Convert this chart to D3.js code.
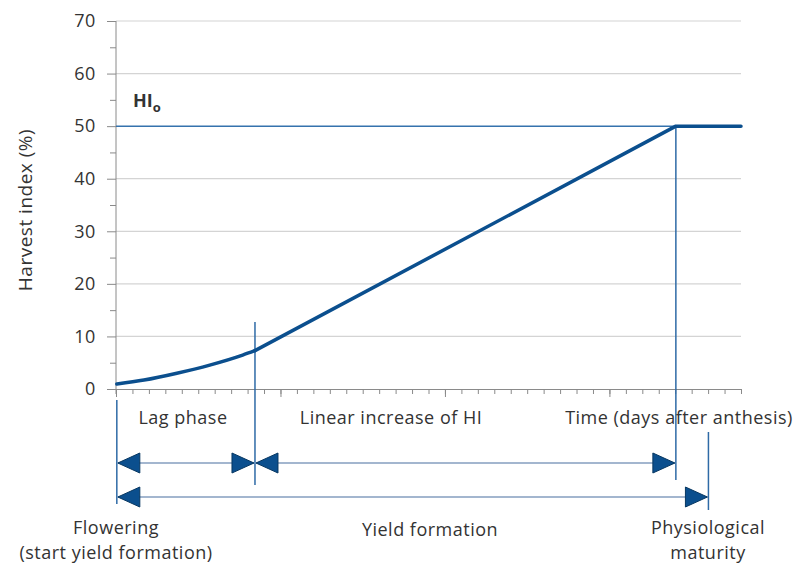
<!DOCTYPE html>
<html>
<head>
<meta charset="utf-8">
<script src="https://cdn.jsdelivr.net/npm/d3@7"></script>
<style>
  body { margin: 0; background: #fff; }
  svg text { font-family: "Open Sans", sans-serif; fill: #333; }
  .axis path, .axis line { stroke: #8a8a8a; }
  .axis text { font-size: 18px; letter-spacing: 0.6px; }
</style>
</head>
<body>
<script>
// lag phase (curved) and linear phase of HI, x in time units
var lagX = [0.05, 1.7, 3.7, 5.7, 7.7, 8.45];
var lagY = [0.95, 1.7, 3.0, 4.55, 6.45, 7.3];
var linX = [8.45, 34.04, 38];
var linY = [7.3, 50, 50];
var hiMax = 50;
var yTicks = [0, 10, 20, 30, 40, 50, 60, 70];
var yMinor = [5, 15, 25, 35, 45, 55, 65];
// phase markers: flowering, end of lag, HI max, physiological maturity
var markX = [0.05, 8.45, 34.04, 36.02];

var width = 799, height = 564;

var svg = d3.select("body").append("svg")
  .attr("width", width)
  .attr("height", height);

var x = d3.scaleLinear().domain([0, 38]).range([116, 741]);
var y = d3.scaleLinear().domain([0, 70]).range([389, 21]);

// gridlines
svg.append("g")
  .selectAll("line")
  .data(yTicks.filter(function(d) { return d > 0 && d != hiMax; }))
  .enter().append("line")
    .attr("x1", x(0)).attr("x2", x(38))
    .attr("y1", function(d) { return y(d); })
    .attr("y2", function(d) { return y(d); })
    .attr("stroke", "#d4d4d4")
    .attr("stroke-width", 1.2);

// y axis
svg.append("g")
  .attr("class", "axis")
  .attr("transform", "translate(" + x(0) + ",0)")
  .call(d3.axisLeft(y).tickValues(yTicks).tickSize(9).tickPadding(11).tickSizeOuter(0))
  .call(function(g) { g.select(".domain").attr("d", "M0," + y(70) + "V" + (y(0) + 5)); });

svg.append("g")
  .attr("class", "axis")
  .attr("transform", "translate(" + x(0) + ",0)")
  .call(d3.axisLeft(y).tickValues(yMinor).tickSize(6).tickFormat(""))
  .call(function(g) { g.select(".domain").remove(); });

// x axis
svg.append("g")
  .attr("class", "axis")
  .attr("transform", "translate(0," + y(0) + ")")
  .call(d3.axisBottom(x).tickValues(d3.range(0, 39)).tickSize(5).tickFormat("").tickSizeOuter(0));

svg.append("g")
  .attr("class", "axis")
  .attr("transform", "translate(0," + y(0) + ")")
  .call(d3.axisBottom(x).tickValues([0, 10, 20, 30]).tickSize(8).tickFormat(""))
  .call(function(g) { g.select(".domain").remove(); });

// y title
svg.append("text")
  .attr("transform", "translate(32,210) rotate(-90)")
  .attr("text-anchor", "middle")
  .style("font-size", "19px")
  .style("letter-spacing", "0.5px")
  .text("Harvest index (%)");

// HIo line
svg.append("line")
  .attr("x1", x(0)).attr("x2", x(markX[2]))
  .attr("y1", y(hiMax)).attr("y2", y(hiMax))
  .attr("stroke", "#3572ad")
  .attr("stroke-width", 1.5);

var hi = svg.append("text")
  .attr("x", 133).attr("y", 107)
  .style("font-size", "18px")
  .style("font-weight", "bold");
hi.append("tspan").text("HI");
hi.append("tspan").attr("dy", 5).style("font-size", "13px").text("o");

// vertical markers
var markTop = [400, 322, y(hiMax), 432];
var markBot = [504, 485, 480, 510];
svg.append("g")
  .selectAll("line")
  .data(markX)
  .enter().append("line")
    .attr("x1", function(d) { return x(d); })
    .attr("x2", function(d) { return x(d); })
    .attr("y1", function(d, i) { return markTop[i]; })
    .attr("y2", function(d, i) { return markBot[i]; })
    .attr("stroke", "#2e6aa6")
    .attr("stroke-width", 1.5);

// HI curve
var lag = lagX.map(function(d, i) { return [d, lagY[i]]; });
var lin = linX.map(function(d, i) { return [d, linY[i]]; });
var line = d3.line()
  .x(function(d) { return x(d[0]); })
  .y(function(d) { return y(d[1]); });

svg.append("path")
  .datum(lag)
  .attr("d", line.curve(d3.curveMonotoneX))
  .attr("fill", "none")
  .attr("stroke", "#0b4f8e")
  .attr("stroke-width", 3.5)
  .attr("stroke-linecap", "round");

svg.append("path")
  .datum(lin)
  .attr("d", line.curve(d3.curveLinear))
  .attr("fill", "none")
  .attr("stroke", "#0b4f8e")
  .attr("stroke-width", 3.5)
  .attr("stroke-linecap", "round")
  .attr("stroke-linejoin", "round");

// phase arrows
var arrows = [
  {from: markX[0], to: markX[1], y: 463},
  {from: markX[1], to: markX[2], y: 463},
  {from: markX[0], to: markX[3], y: 497}
];

function head(tipX, yy, dir) {
  var len = 22, half = 10;
  return "M" + tipX + "," + yy +
    "L" + (tipX - dir * len) + "," + (yy - half) +
    "L" + (tipX - dir * len) + "," + (yy + half) + "Z";
}

var ag = svg.append("g");
arrows.forEach(function(a) {
  var x1 = x(a.from) + 1, x2 = x(a.to) - 1;
  ag.append("line")
    .attr("x1", x1).attr("x2", x2)
    .attr("y1", a.y).attr("y2", a.y)
    .attr("stroke", "#a3b6cf")
    .attr("stroke-width", 2);
  ag.append("path")
    .attr("d", head(x1, a.y, -1))
    .attr("fill", "#0b4f8e")
    .attr("stroke", "#073761")
    .attr("stroke-width", 1);
  ag.append("path")
    .attr("d", head(x2, a.y, 1))
    .attr("fill", "#0b4f8e")
    .attr("stroke", "#073761")
    .attr("stroke-width", 1);
});

// labels
var labels = [
  {t: "Lag phase", x: 183, y: 424},
  {t: "Linear increase of HI", x: 391, y: 424},
  {t: "Time (days after anthesis)", x: 679, y: 424},
  {t: "Flowering", x: 116, y: 534},
  {t: "(start yield formation)", x: 116, y: 559},
  {t: "Yield formation", x: 430, y: 536},
  {t: "Physiological", x: 708, y: 534},
  {t: "maturity", x: 708, y: 559}
];

svg.append("g")
  .selectAll("text")
  .data(labels)
  .enter().append("text")
    .attr("x", function(d) { return d.x; })
    .attr("y", function(d) { return d.y; })
    .attr("text-anchor", "middle")
    .style("font-size", "18px")
    .style("letter-spacing", "0.5px")
    .text(function(d) { return d.t; });
</script>
</body>
</html>
